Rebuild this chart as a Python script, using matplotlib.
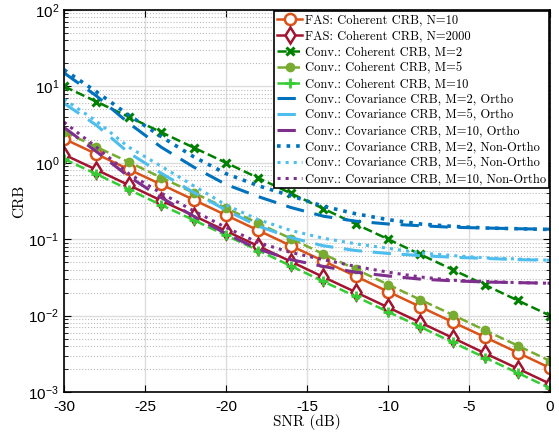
import numpy as np
import matplotlib
matplotlib.use('Agg')
import matplotlib.pyplot as plt

snr = [-30, -28, -26, -24, -22, -20, -18, -16, -14, -12, -10, -8, -6, -4, -2, 0]

fas_n10 = [2.06, 1.30, 0.82, 0.52, 0.328, 0.206, 0.130, 0.082, 0.052, 0.0328, 0.0206, 0.0130, 0.0082, 0.0052, 0.00328, 0.00206]
fas_n2000 = [1.28, 0.81, 0.51, 0.32, 0.203, 0.128, 0.081, 0.051, 0.032, 0.0203, 0.0128, 0.0081, 0.0051, 0.0032, 0.00203, 0.00128]
coh_m2 = [10.0, 6.31, 3.98, 2.51, 1.58, 1.0, 0.631, 0.398, 0.251, 0.158, 0.1, 0.0631, 0.0398, 0.0251, 0.0158, 0.01]
coh_m5 = [2.55, 1.61, 1.02, 0.64, 0.405, 0.255, 0.161, 0.102, 0.064, 0.0405, 0.0255, 0.0161, 0.0102, 0.0064, 0.00405, 0.00255]
coh_m10 = [1.12, 0.71, 0.446, 0.28, 0.178, 0.112, 0.071, 0.0446, 0.028, 0.0178, 0.0112, 0.0071, 0.00446, 0.0028, 0.00178, 0.00112]

cov_m2_o = [15.0, 7.5, 3.3, 1.6, 0.88, 0.52, 0.36, 0.26, 0.20, 0.172, 0.158, 0.150, 0.143, 0.140, 0.137, 0.135]
cov_m5_o = [6.0, 3.1, 1.35, 0.73, 0.41, 0.24, 0.148, 0.105, 0.082, 0.071, 0.065, 0.061, 0.058, 0.056, 0.054, 0.053]
cov_m10_o = [2.9, 1.4, 0.66, 0.35, 0.20, 0.118, 0.074, 0.054, 0.044, 0.037, 0.033, 0.030, 0.0285, 0.0275, 0.027, 0.0265]
cov_m2_no = [16.5, 8.5, 4.2, 2.2, 1.2, 0.72, 0.50, 0.37, 0.27, 0.215, 0.18, 0.158, 0.147, 0.140, 0.137, 0.134]
cov_m5_no = [6.8, 3.5, 1.6, 0.9, 0.5, 0.28, 0.18, 0.13, 0.103, 0.087, 0.076, 0.066, 0.061, 0.057, 0.055, 0.053]
cov_m10_no = [3.4, 1.6, 0.72, 0.40, 0.235, 0.142, 0.09, 0.067, 0.054, 0.044, 0.037, 0.032, 0.029, 0.028, 0.027, 0.0265]

labels = ['FAS: Coherent CRB, N=10', 'FAS: Coherent CRB, N=2000',
          'Conv.: Coherent CRB, M=2', 'Conv.: Coherent CRB, M=5', 'Conv.: Coherent CRB, M=10',
          'Conv.: Covariance CRB, M=2, Ortho', 'Conv.: Covariance CRB, M=5, Ortho',
          'Conv.: Covariance CRB, M=10, Ortho', 'Conv.: Covariance CRB, M=2, Non-Ortho',
          'Conv.: Covariance CRB, M=5, Non-Ortho', 'Conv.: Covariance CRB, M=10, Non-Ortho']

c_or = '#D95319'
c_red = '#A2142F'
c_dg = '#008000'
c_yg = '#77AC30'
c_bg = '#33CC33'
c_bl = '#0072BD'
c_lb = '#4DBEEE'
c_pu = '#7E2F8E'

serif = 'cmr10'
plt.rcParams['font.family'] = ['Liberation Sans', 'DejaVu Sans']
plt.rcParams['axes.formatter.use_mathtext'] = True
plt.rcParams['mathtext.fontset'] = 'custom'
plt.rcParams['mathtext.rm'] = 'Liberation Sans'

fig = plt.figure(figsize=(5.59, 4.32), dpi=100)
ax = fig.add_axes([0.1145, 0.0926, 0.8695, 0.8844])

lw = 1.8
ax.plot(snr, fas_n10, '-', color=c_or, lw=lw, marker='o', ms=8, mfc='white', mew=1.8, label=labels[0])
ax.plot(snr, fas_n2000, '-', color=c_red, lw=lw, marker='d', ms=8, mfc='white', mew=1.8, label=labels[1])
ax.plot(snr, coh_m2, '--', color=c_dg, lw=lw, marker='x', ms=6, mew=2.2, label=labels[2])
ax.plot(snr, coh_m5, '--', color=c_yg, lw=lw, marker='o', ms=6, mfc=c_yg, label=labels[3])
ax.plot(snr, coh_m10, '--', color=c_bg, lw=lw, marker='+', ms=7, mew=2, label=labels[4])
ax.plot(snr, cov_m2_o, color=c_bl, lw=2.2, dashes=(6, 3.5), label=labels[5])
ax.plot(snr, cov_m5_o, color=c_lb, lw=2.2, dashes=(6, 3.5), label=labels[6])
ax.plot(snr, cov_m10_o, color=c_pu, lw=2.2, dashes=(6, 3.5), label=labels[7])
ax.plot(snr, cov_m2_no, ':', color=c_bl, lw=2.6, label=labels[8])
ax.plot(snr, cov_m5_no, ':', color=c_lb, lw=2.2, label=labels[9])
ax.plot(snr, cov_m10_no, ':', color=c_pu, lw=2.2, label=labels[10])

ax.set_yscale('log')
ax.set_xlim(-30, 0)
ax.set_ylim(1e-3, 1e2)
ax.set_xticks([-30, -25, -20, -15, -10, -5, 0])
ax.set_xticklabels(['-30', '-25', '-20', '-15', '-10', '-5', '0'])
ax.tick_params(which='both', direction='in', top=True, right=True, labelsize=11)
ax.tick_params(axis='x', pad=6)
ax.tick_params(which='major', length=5)
ax.tick_params(which='minor', length=3)
ax.grid(True, which='major', color='#dddddd', lw=1.0)
ax.grid(True, which='minor', color='#bbbbbb', lw=0.8, ls=':')
ax.set_axisbelow(True)
for sp in ax.spines.values():
    sp.set_linewidth(1.2)

ax.set_xlabel('SNR (dB)', fontfamily=serif, fontsize=11, labelpad=0)
ax.set_ylabel('CRB', fontfamily=serif, fontsize=11, labelpad=2)

leg = ax.legend(loc='upper right', prop={'family': serif, 'size': 9.0}, fancybox=False,
                edgecolor='black', framealpha=1, borderaxespad=0.1, handlelength=2.0,
                labelspacing=0.3, borderpad=0.25, handletextpad=0.2)
leg.get_frame().set_linewidth(1.2)

plt.savefig('out.png', dpi=100)
